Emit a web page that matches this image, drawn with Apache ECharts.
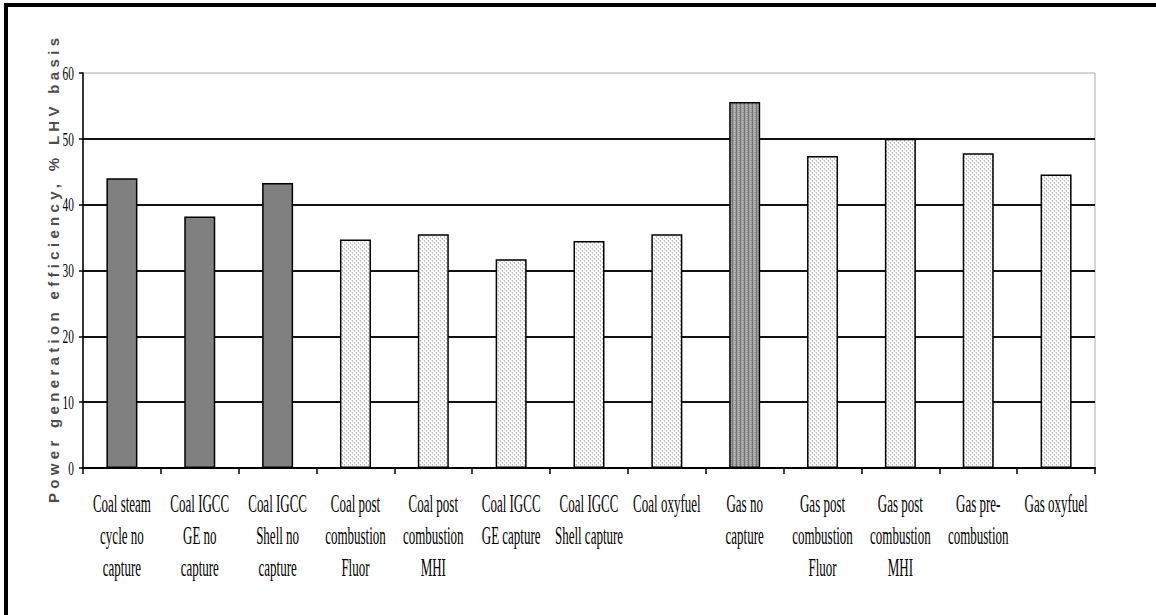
<!DOCTYPE html>
<html>
<head>
<meta charset="utf-8">
<script src="https://cdn.jsdelivr.net/npm/echarts@6/dist/echarts.min.js"></script>
<style>
html,body{margin:0;padding:0;background:#fff;}
#chart{width:1156px;height:615px;}
</style>
</head>
<body>
<div id="chart"></div>
<script>
// ---- data ----
const categories = [
  'Coal steam\ncycle no\ncapture',
  'Coal IGCC\nGE no\ncapture',
  'Coal IGCC\nShell no\ncapture',
  'Coal post\ncombustion\nFluor',
  'Coal post\ncombustion\nMHI',
  'Coal IGCC\nGE capture',
  'Coal IGCC\nShell capture',
  'Coal oxyfuel',
  'Gas no\ncapture',
  'Gas post\ncombustion\nFluor',
  'Gas post\ncombustion\nMHI',
  'Gas pre-\ncombustion',
  'Gas oxyfuel'
];
const efficiency = [44.0, 38.2, 43.3, 34.7, 35.5, 31.7, 34.5, 35.5, 55.6, 47.4, 50.0, 47.8, 44.6];
const fuel = ['coal','coal','coal','coal','coal','coal','coal','coal','gas','gas','gas','gas','gas'];
const withCapture = [false,false,false,true,true,true,true,true,false,true,true,true,true];
const yTicks = [0, 10, 20, 30, 40, 50, 60];
const yAxisTitle = 'Power generation efficiency, % LHV basis';

// ---- fill patterns ----
function makePattern(bg, pixels) {
  const c = document.createElement('canvas');
  c.width = 4; c.height = 4;
  const ctx = c.getContext('2d');
  ctx.fillStyle = bg; ctx.fillRect(0, 0, 4, 4);
  pixels.forEach(p => { ctx.fillStyle = p[2]; ctx.fillRect(p[0], p[1], 1, 1); });
  return { image: c, repeat: 'repeat', imageWidth: 4, imageHeight: 4 };
}
const lightFill = makePattern('#ffffff', [[0,0,'#bdbdbd'],[0,1,'#c8c8c8'],[2,2,'#bdbdbd'],[2,3,'#c8c8c8'],[1,2,'#e6e6e6'],[3,0,'#e6e6e6']]);
const darkFill = makePattern('#a0a0a0', [[0,0,'#747474'],[0,1,'#747474'],[0,2,'#747474'],[0,3,'#747474'],[2,1,'#c0c0c0'],[2,3,'#c0c0c0'],[3,0,'#8a8a8a']]);
const solidFill = '#808080';

function fillFor(i) {
  if (withCapture[i]) return lightFill;
  return fuel[i] === 'gas' ? darkFill : solidFill;
}

const chart = echarts.init(document.getElementById('chart'), null, { renderer: 'svg' });
chart.setOption({
  animation: false,
  backgroundColor: '#ffffff',
  grid: { left: 83, right: 61, top: 73, bottom: 147, show: true, borderColor: '#a8a8a8', borderWidth: 1, backgroundColor: 'transparent' },
  graphic: [
    { type: 'rect', left: 4, top: 3, shape: { width: 4, height: 612 }, style: { fill: '#000' }, silent: true },
    { type: 'rect', left: 4, top: 3, shape: { width: 1152, height: 4 }, style: { fill: '#000' }, silent: true }
  ],
  xAxis: {
    type: 'category',
    data: categories,
    axisLine: { lineStyle: { color: '#000', width: 2 } },
    axisTick: { show: true, length: 6, lineStyle: { color: '#000', width: 1.5 } },
    axisLabel: { interval: 0, margin: 19, lineHeight: 32, fontFamily: '"Liberation Serif", "Times New Roman", serif', fontSize: 25, color: '#000' },
    splitLine: { show: false }
  },
  yAxis: {
    type: 'value',
    min: yTicks[0],
    max: yTicks[yTicks.length - 1],
    interval: yTicks[1] - yTicks[0],
    name: yAxisTitle,
    nameLocation: 'middle',
    nameGap: 22,
    nameMoveOverlap: false,
    nameTextStyle: { fontFamily: '"Liberation Sans", Arial, sans-serif', fontWeight: 'bold', fontSize: 15, color: '#4d4d4d' },
    axisLine: { show: true, lineStyle: { color: '#000', width: 1.5 } },
    axisTick: { show: true, length: 4, lineStyle: { color: '#000', width: 1.5 } },
    axisLabel: { margin: 9, fontFamily: '"Liberation Serif", "Times New Roman", serif', fontSize: 19, color: '#000' },
    splitLine: { show: true, showMaxLine: false, lineStyle: { color: '#111', width: 2 } }
  },
  series: [{
    type: 'bar',
    barWidth: 31,
    data: efficiency.map((v, i) => ({ value: v, itemStyle: { color: fillFor(i) } })),
    itemStyle: { borderColor: '#000', borderWidth: 1.5 },
    emphasis: { disabled: true }
  }]
});

// condensed look of the printed labels (horizontal squeeze), spaced-out axis title
function stylizeText() {
  const svg = document.querySelector('#chart svg');
  if (!svg) return;
  svg.querySelectorAll('text').forEach(t => {
    const s = (t.textContent || '').trim();
    if (!s) return;
    if (s.indexOf('Power generation') === 0) {
      if (t.getAttribute('textLength') !== '465') {
        t.setAttribute('textLength', '465');
        t.setAttribute('lengthAdjust', 'spacing');
      }
      return;
    }
    const cur = t.getAttribute('transform') || '';
    if (t.getAttribute('data-adj') === cur && cur !== '') return;
    const k = /^\d+$/.test(s) ? 0.6 : 0.52;
    const x = parseFloat(t.getAttribute('x') || '0') || 0;
    const next = cur + ' translate(' + x + ',0) scale(' + k + ',1) translate(' + (-x) + ',0)';
    t.setAttribute('transform', next);
    t.setAttribute('data-adj', next);
  });
}
stylizeText();
chart.on('finished', stylizeText);
chart.on('rendered', stylizeText);
setTimeout(stylizeText, 50);
</script>
</body>
</html>
